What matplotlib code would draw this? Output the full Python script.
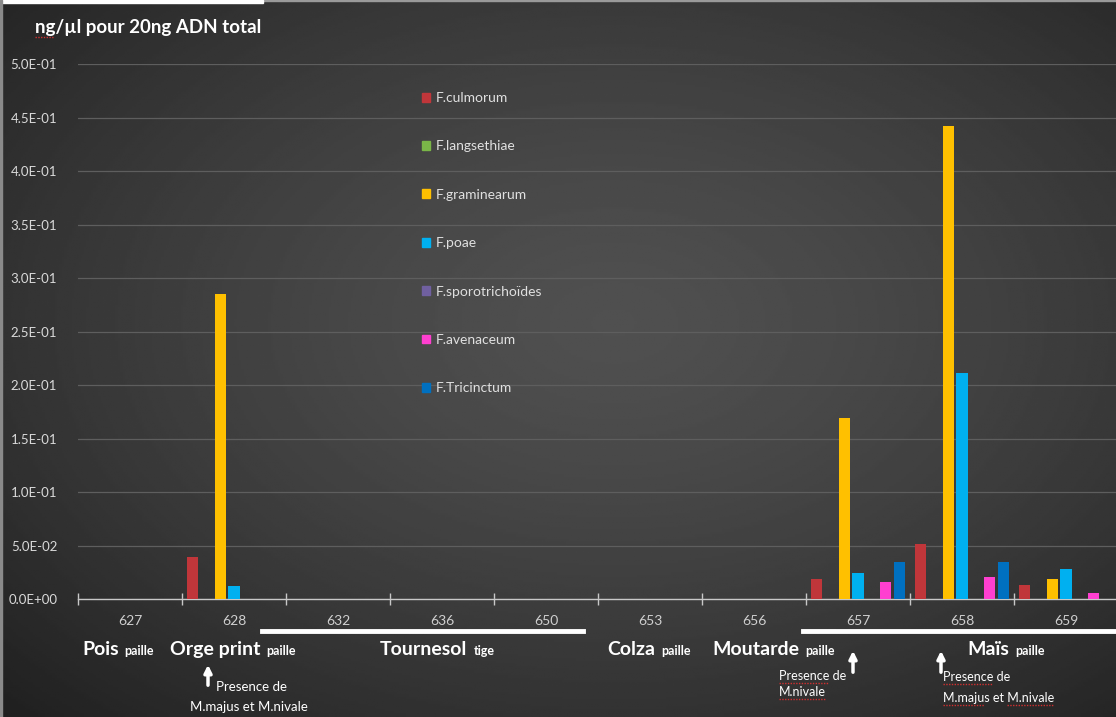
import numpy as np
import matplotlib
matplotlib.use("Agg")
import matplotlib.pyplot as plt
from matplotlib.lines import Line2D
from matplotlib.patches import Patch, Rectangle, FancyArrowPatch
from matplotlib.ticker import FuncFormatter, MultipleLocator

plt.rcParams['font.family'] = ['Lato', 'DejaVu Sans']

# données
echantillons = ['627', '628', '632', '636', '650', '653', '656', '657', '658', '659']
especes = ['F.culmorum', 'F.langsethiae', 'F.graminearum', 'F.poae',
           'F.sporotrichoïdes', 'F.avenaceum', 'F.Tricinctum']
culmorum      = [0.0,    0.040, 0.0, 0.0,    0.0,    0.0, 0.0, 0.019,  0.052,  0.0134]
langsethiae   = [0.0,    0.0,   0.0, 0.0,    0.0,    0.0, 0.0, 0.0,    0.0,    0.0]
graminearum   = [0.0,    0.285, 0.0, 0.0,    0.0,    0.0, 0.0, 0.169,  0.442,  0.019]
poae          = [0.0004, 0.012, 0.0, 0.0004, 0.0004, 0.0, 0.0, 0.0243, 0.2114, 0.0283]
sporotrich    = [0.0,    0.0,   0.0, 0.0,    0.0,    0.0, 0.0, 0.0,    0.0,    0.0]
avenaceum     = [0.0,    0.0,   0.0, 0.0,    0.0,    0.0, 0.0, 0.0159, 0.0206, 0.0062]
tricinctum    = [0.0,    0.0,   0.0, 0.0,    0.0,    0.0, 0.0, 0.0346, 0.0346, 0.0]
series = [culmorum, langsethiae, graminearum, poae, sporotrich, avenaceum, tricinctum]
couleurs = ['#C0363A', '#7AB648', '#FFC000', '#00B0F0', '#7060A0', '#FF3FD0', '#0070C0']

W, H = 1116, 717
fig = plt.figure(figsize=(W / 100, H / 100), dpi=100)

# fond en dégradé sombre
bg = fig.add_axes([0, 0, 1, 1], zorder=-10)
yy, xx = np.mgrid[0:1:300j, 0:1:460j]
r = np.sqrt(((xx - 0.55) / 0.75) ** 2 + ((yy - 0.45) / 0.75) ** 2)
grad = np.clip(0x50 - (0x50 - 0x22) * r ** 1.4, 0x1e, 0x52) / 255.0
bg.imshow(grad, cmap='gray', vmin=0, vmax=1, aspect='auto', extent=[0, 1, 0, 1], origin='upper')
bg.axis('off')

def fx(px):
    return px / W

def fy(py):
    return 1 - py / H

# bords clairs de la capture
fig.add_artist(Rectangle((0, fy(1.2)), 1, 1.2 / H, color='#9a9a9a', transform=fig.transFigure))
fig.add_artist(Rectangle((0, fy(3)), fx(263), 3 / H, color='white', transform=fig.transFigure))
fig.add_artist(Rectangle((0, 0), fx(1.5), 1, color='#8a8a8a', transform=fig.transFigure))

ax = fig.add_axes([fx(78), fy(599.3), 1040 / W, 535 / H])
ax.set_facecolor('none')

x = np.arange(len(echantillons))
pas, larg = 0.133, 0.106
for i, (vals, c) in enumerate(zip(series, couleurs)):
    ax.bar(x + (i - 3) * pas, vals, larg, color=c, zorder=3, label=especes[i])

ax.set_xlim(-0.5, len(echantillons) - 0.5)
ax.set_ylim(0, 0.5)
ax.yaxis.set_major_locator(MultipleLocator(0.05))
ax.yaxis.set_major_formatter(FuncFormatter(lambda v, p: f"{v:.1E}"))
ax.grid(axis='y', color='#5e5e5e', lw=0.9, zorder=0)
for s in ['top', 'right', 'left']:
    ax.spines[s].set_visible(False)
ax.spines['bottom'].set_color('#c8c8c8')
ax.spines['bottom'].set_linewidth(1.0)
ax.tick_params(axis='y', length=0, pad=15, labelsize=9.5, labelcolor='#d9d9d9')
ax.set_xticks(x)
ax.set_xticklabels(echantillons)
ax.tick_params(axis='x', which='major', length=0, pad=11, labelsize=10, labelcolor='#d0d0d0')
ax.set_xticks(np.arange(-0.5, len(echantillons), 1.0), minor=True)
ax.tick_params(axis='x', which='minor', direction='inout', length=9, color='#c8c8c8', width=1)

handles = [Patch(color=c) for c in couleurs]
leg = ax.legend(handles, especes, loc='upper left', bbox_to_anchor=(fx(422), fy(92)),
                bbox_transform=fig.transFigure, frameon=False, fontsize=10,
                handlelength=0.6, handleheight=0.6, handletextpad=0.4,
                labelspacing=2.62, borderaxespad=0, borderpad=0)
for t in leg.get_texts():
    t.set_color('#e0e0e0')

# titre de l'axe
titre = fig.text(fx(35), fy(27), 'ng/µl pour 20ng ADN total', color='white', fontsize=13.5,
                 fontweight='bold', va='center', ha='left')

# noms des cultures sous l'axe
cultures = [('Pois', 'paille', 82), ('Orge print', 'paille', 170), ('Tournesol', 'tige', 380),
            ('Colza', 'paille', 607), ('Moutarde', 'paille', 712), ('Maïs', 'paille', 967)]
renderer = fig.canvas.get_renderer()
for nom, partie, px in cultures:
    t = fig.text(fx(px), fy(655), nom, color='white', fontsize=14, fontweight='bold',
                 va='baseline', ha='left')
    bb = t.get_window_extent(renderer)
    fig.text(bb.x1 / W + fx(6), fy(655), partie, color='white', fontsize=9,
             fontweight='bold', va='baseline', ha='left')

# barres blanches de regroupement
for x0, x1 in [(262, 583), (803, 1116)]:
    fig.add_artist(Line2D([fx(x0), fx(x1)], [fy(631), fy(631)], color='white', lw=3.5,
                          transform=fig.transFigure))

# flèches et notes
fleches = [(208, 688, 662), (853, 675, 648), (941, 675, 648)]
for px, y0, y1 in fleches:
    fig.add_artist(FancyArrowPatch(
        (fx(px), fy(y0)), (fx(px), fy(y1)), transform=fig.transFigure,
        arrowstyle='-|>', mutation_scale=11, lw=2.5, color='white'))

notes = [(216, 687, 'Presence de', False), (190, 707, 'M.majus et M.nivale', False),
         (779, 676, 'Presence de', True), (779, 692, 'M.nivale', True),
         (943, 677, 'Presence de', True), (943, 698, 'M.majus et M.nivale', True)]
for px, py, txt, souligne in notes:
    t = fig.text(fx(px), fy(py), txt, color='white', fontsize=9.5 if px < 700 else 9,
                 va='center', ha='left')
    if souligne:
        # soulignement rouge du correcteur orthographique
        bb = t.get_window_extent(renderer)
        if txt.startswith('Presence'):
            segs = [(0, len('Presence') / len(txt))]
        elif txt.startswith('M.majus'):
            segs = [(0, 7 / len(txt)), (11 / len(txt), 1)]
        else:
            segs = [(0, 1)]
        for a, b in segs:
            x0 = bb.x0 + a * bb.width
            x1 = bb.x0 + b * bb.width
            fig.add_artist(Line2D([x0 / W, x1 / W], [(bb.y0 - 1) / H] * 2, color='#d03030',
                                  lw=1, ls=(0, (1, 1)), transform=fig.transFigure))

bb = titre.get_window_extent(renderer)
fig.add_artist(Line2D([bb.x0 / W, (bb.x0 + 18) / W], [(bb.y0 - 1) / H] * 2, color='#d03030',
                      lw=1, ls=(0, (1, 1)), transform=fig.transFigure))

fig.savefig('out.png', dpi=100)
